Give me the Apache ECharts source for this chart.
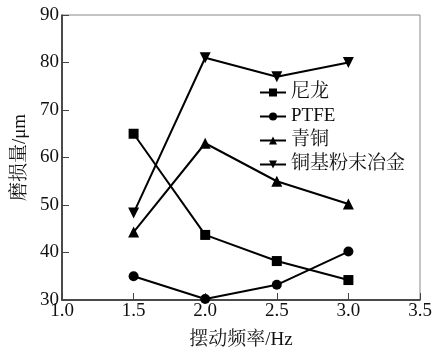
<!DOCTYPE html>
<html><head><meta charset="utf-8">
<script src="https://cdn.jsdelivr.net/npm/echarts@6/dist/echarts.min.js"></script>
<style>html,body{margin:0;padding:0;background:#fff}#c{width:443px;height:349px}</style>
</head><body><div id="c"></div>
<script>
var freq = [1.5, 2.0, 2.5, 3.0];
var seriesNames = ['尼龙', 'PTFE', '青铜', '铜基粉末冶金'];
var nylon = [65, 43.7, 38.2, 34.2];
var ptfe = [35, 30.2, 33.2, 40.2];
var bronze = [44.3, 63, 55, 50.2];
var copperPM = [48.3, 81, 77, 80];
var xTicks = [1.0, 1.5, 2.0, 2.5, 3.0, 3.5];
var yTicks = [30, 40, 50, 60, 70, 80, 90];

var FONT = '"Liberation Serif", "Noto Serif CJK SC", "Noto Sans CJK SC", serif';
var symbols = ['rect', 'circle', 'triangle', 'path://M0,0 L10,0 L5,9 Z'];
var sizes = [10, 10, 11, 11];
var vals = [nylon, ptfe, bronze, copperPM];

function pairs(v) { return freq.map(function (f, i) { return [f, v[i]]; }); }

var chart = echarts.init(document.getElementById('c'), null, {renderer: 'canvas'});
chart.setOption({
  animation: false,
  backgroundColor: '#fff',
  grid: {left: 62, right: 23, top: 15, bottom: 49, show: true, borderColor: '#888', borderWidth: 1,
    containLabel: false, outerBoundsMode: 'none'},
  textStyle: {fontFamily: FONT},
  legend: {
    orient: 'vertical', left: 254, top: 78, itemWidth: 26, itemHeight: 10, itemGap: 5,
    data: seriesNames,
    textStyle: {fontFamily: FONT, fontSize: 19, color: '#111', padding: [0, 0, 0, 0]},
    itemStyle: {color: '#000'}
  },
  xAxis: {
    type: 'value', min: xTicks[0], max: xTicks[xTicks.length - 1], interval: 0.5,
    name: '摆动频率/Hz', nameLocation: 'middle', nameGap: 31,
    nameTextStyle: {fontFamily: FONT, fontSize: 19, color: '#111'},
    axisLine: {lineStyle: {color: '#222', width: 1.5}},
    axisTick: {inside: true, length: 7, lineStyle: {color: '#444'}},
    axisLabel: {margin: 2, fontFamily: FONT, fontSize: 19, color: '#111',
      formatter: function (v) { return v.toFixed(1); }},
    splitLine: {show: false}
  },
  yAxis: {
    type: 'value', min: yTicks[0], max: yTicks[yTicks.length - 1], interval: 10,
    name: '磨损量/μm', nameLocation: 'middle', nameGap: 30,
    nameTextStyle: {fontFamily: FONT, fontSize: 19, color: '#111'},
    axisLine: {lineStyle: {color: '#222', width: 1.5}},
    axisTick: {inside: true, length: 7, lineStyle: {color: '#444'}},
    axisLabel: {margin: 3, fontFamily: FONT, fontSize: 19, color: '#111'},
    splitLine: {show: false}
  },
  series: seriesNames.map(function (n, i) {
    return {
      name: n, type: 'line', data: pairs(vals[i]),
      symbol: symbols[i], symbolSize: sizes[i], showAllSymbol: true,
      lineStyle: {color: '#000', width: 2},
      itemStyle: {color: '#000'}
    };
  })
});
</script></body></html>
